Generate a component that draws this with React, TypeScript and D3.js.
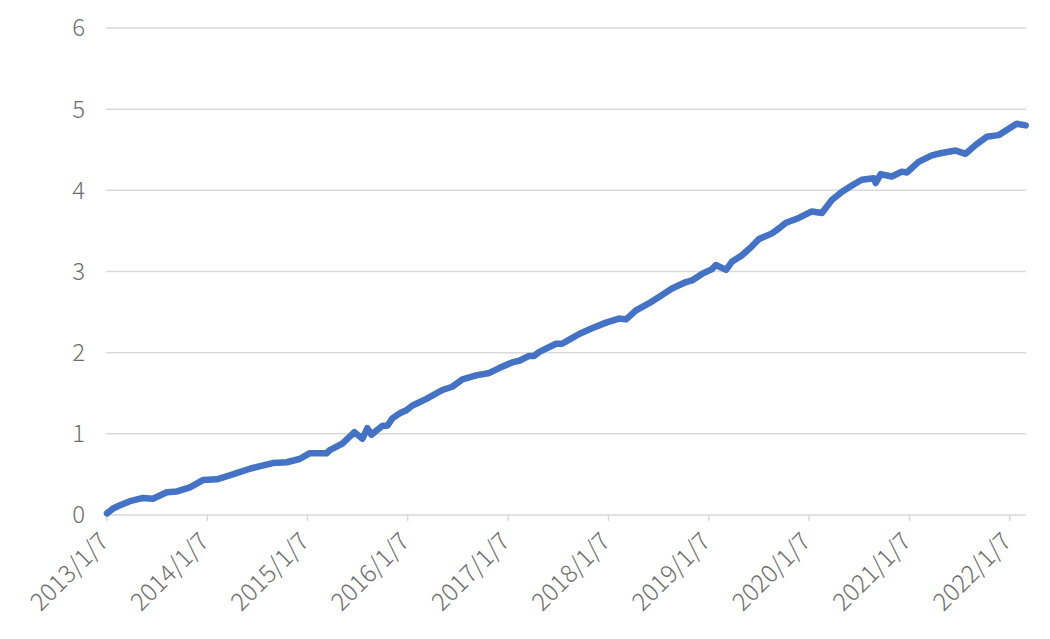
import React from "react";
import * as d3 from "d3";

const dates: string[] = [
  "2013-01-07","2013-01-29","2013-02-23","2013-04-01","2013-05-18","2013-06-23","2013-08-13","2013-09-19",
  "2013-11-05","2013-12-22","2014-02-11","2014-04-10","2014-06-11","2014-09-02","2014-10-23","2014-12-09",
  "2015-01-14","2015-03-17","2015-03-29","2015-05-14","2015-06-27","2015-07-26","2015-08-13","2015-08-28",
  "2015-10-07","2015-10-25","2015-11-12","2015-12-07","2016-01-02","2016-01-24","2016-02-07","2016-03-15",
  "2016-05-12","2016-06-17","2016-07-24","2016-09-12","2016-10-30","2016-12-05","2017-01-21","2017-02-16",
  "2017-03-24","2017-04-11","2017-04-30","2017-06-30","2017-07-22","2017-08-17","2017-09-22","2017-11-08",
  "2017-12-29","2018-02-14","2018-03-12","2018-04-17","2018-06-04","2018-07-21","2018-08-26","2018-10-16",
  "2018-11-07","2018-12-13","2019-01-19","2019-02-02","2019-03-11","2019-04-01","2019-05-08","2019-06-13",
  "2019-07-09","2019-08-25","2019-09-19","2019-10-15","2019-12-01","2020-01-17","2020-02-23","2020-03-30",
  "2020-05-05","2020-06-11","2020-07-17","2020-08-30","2020-09-06","2020-09-24","2020-11-03","2020-12-10",
  "2020-12-28","2021-02-09","2021-03-29","2021-05-04","2021-06-24","2021-07-30","2021-09-05","2021-10-15",
  "2021-11-27","2022-01-03","2022-02-01","2022-03-06",
];

const values: number[] = [
  0.02,0.08,0.12,0.17,0.21,0.20,0.28,0.29,
  0.34,0.43,0.44,0.50,0.57,0.64,0.65,0.69,
  0.76,0.76,0.80,0.88,1.02,0.94,1.07,0.99,
  1.10,1.10,1.19,1.25,1.29,1.35,1.37,1.43,
  1.54,1.58,1.67,1.72,1.75,1.81,1.88,1.90,
  1.96,1.96,2.01,2.11,2.11,2.16,2.23,2.30,
  2.37,2.42,2.41,2.52,2.61,2.71,2.79,2.87,
  2.89,2.97,3.03,3.08,3.02,3.12,3.20,3.31,
  3.40,3.47,3.53,3.60,3.66,3.74,3.72,3.88,
  3.98,4.06,4.13,4.15,4.09,4.20,4.17,4.23,
  4.22,4.35,4.43,4.46,4.49,4.45,4.56,4.66,
  4.68,4.76,4.82,4.80,
];

const yTicks: number[] = [0, 1, 2, 3, 4, 5, 6];
const xTickLabels: string[] = [
  "2013/1/7","2014/1/7","2015/1/7","2016/1/7","2017/1/7",
  "2018/1/7","2019/1/7","2020/1/7","2021/1/7","2022/1/7",
];

const parse = d3.timeParse("%Y-%m-%d");
const parseTick = d3.timeParse("%Y/%m/%d");

export default function App() {
  const W = 1050, H = 639;
  const left = 106, right = 1026, top = 28, bottom = 515;
  const x = d3.scaleTime()
    .domain([parse("2013-01-07")!, parse("2022-03-07")!])
    .range([left + 1, right]);
  const y = d3.scaleLinear().domain([0, 6]).range([bottom, top]);
  const pts = dates.map((d, i) => ({ d: parse(d)!, v: values[i] }));
  const line = d3.line<{ d: Date; v: number }>()
    .x(p => x(p.d))
    .y(p => y(p.v));
  const font = "'Noto Sans CJK SC', 'Noto Sans', sans-serif";
  return (
    <svg width={W} height={H} style={{ position: "absolute", left: 0, top: 0, background: "#fff" }}>
      {yTicks.map(t => (
        <g key={t}>
          <line x1={left} x2={right} y1={y(t)} y2={y(t)} stroke="#d9d9d9" strokeWidth={1.5} />
          <text x={85} y={y(t)} dy="0.35em" textAnchor="end" fontFamily={font}
            fontSize={24} fill="#6e6e6e" fontWeight={300}>{t}</text>
        </g>
      ))}
      {xTickLabels.map(lbl => {
        const tx = x(parseTick(lbl)!);
        return (
          <g key={lbl}>
            <line x1={tx} x2={tx} y1={bottom} y2={bottom + 6} stroke="#d9d9d9" strokeWidth={1.5} />
            <text transform={`translate(${tx - 3},${bottom + 22}) rotate(-45)`} dy="0.35em"
              textAnchor="end" fontFamily={font} fontSize={24.5} fill="#6e6e6e" fontWeight={300}>{lbl}</text>
          </g>
        );
      })}
      <path d={line(pts) || ""} fill="none" stroke="#4472C4" strokeWidth={6.5}
        strokeLinejoin="round" strokeLinecap="round" />
    </svg>
  );
}
